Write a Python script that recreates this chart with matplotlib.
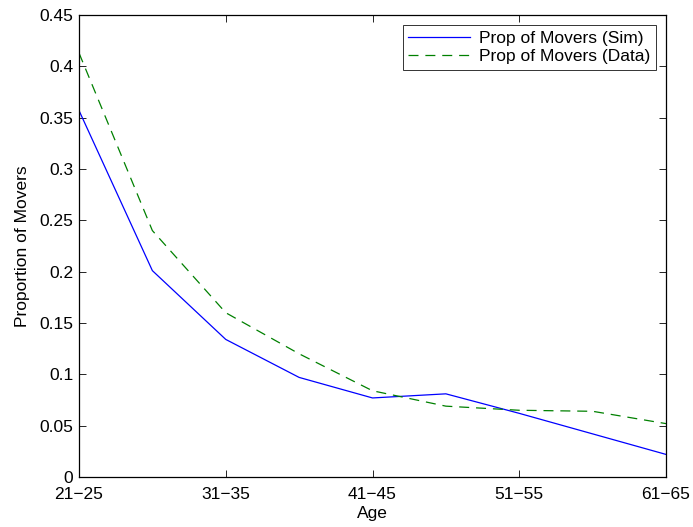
import matplotlib

matplotlib.use("Agg")
import matplotlib.pyplot as plt

ages = [1, 2, 3, 4, 5, 6, 7, 8, 9]
sim = [0.357, 0.201, 0.134, 0.097, 0.077, 0.081, 0.062, 0.042, 0.022]
data = [0.413, 0.240, 0.160, 0.120, 0.084, 0.069, 0.065, 0.064, 0.052]
xtick_pos = [1, 3, 5, 7, 9]
xtick_labels = ["21\u221225", "31\u221235", "41\u221245", "51\u221255", "61\u221265"]
yticks = [0, 0.05, 0.1, 0.15, 0.2, 0.25, 0.3, 0.35, 0.4, 0.45]

plt.rcParams["font.family"] = ["Liberation Sans", "DejaVu Sans"]

fig = plt.figure(figsize=(6.93, 5.27), dpi=100)
ax = fig.add_axes([79 / 693, 1 - 477 / 527, (666 - 79) / 693, (477 - 15) / 527])

ax.plot(ages, sim, color="#0000ff", linewidth=0.9, label="Prop of Movers (Sim)")
ax.plot(ages, data, color="#008000", linewidth=0.9, linestyle=(0, (8, 5.5)),
        label="Prop of Movers (Data)")

ax.set_xlim(1, 9)
ax.set_ylim(0, 0.45)
ax.set_xticks(xtick_pos)
ax.set_xticklabels(xtick_labels)
ax.set_yticks(yticks)
ax.set_yticklabels(["0" if v == 0 else f"{v:g}" for v in yticks])
ax.tick_params(direction="in", top=True, right=True, labelsize=12.5, length=5, width=0.6)
ax.tick_params(axis="x", pad=7)
ax.tick_params(axis="y", pad=4)
ax.set_xlabel("Age", fontsize=12.5, labelpad=3)
ax.set_ylabel("Proportion of Movers", fontsize=12.5, labelpad=7)
for spine in ax.spines.values():
    spine.set_linewidth(0.9)

leg = ax.legend(loc="upper right", fontsize=12.5, frameon=True, fancybox=False,
                edgecolor="black", borderaxespad=0.6, handlelength=3.6,
                labelspacing=0.2, borderpad=0.3, handletextpad=0.5)
leg.get_frame().set_linewidth(0.7)

fig.savefig("out.png", dpi=100, facecolor="white")
